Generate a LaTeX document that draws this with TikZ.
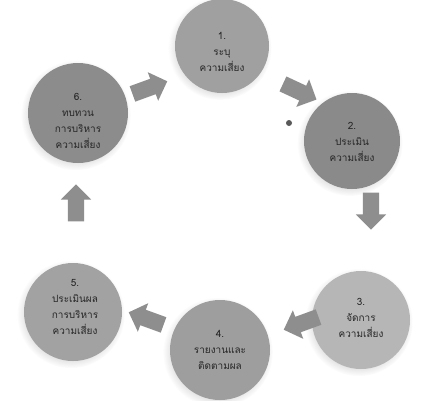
\documentclass[tikz,border=0pt]{standalone}
\usepackage{fontspec}
\newfontfamily\thaifont[Script=Thai]{Loma}
\usetikzlibrary{shapes.arrows,shadows}
\definecolor{cA}{HTML}{A0A0A0}
\definecolor{cB}{HTML}{8A8A8A}
\definecolor{cC}{HTML}{B6B6B6}
\definecolor{cD}{HTML}{9E9E9E}
\definecolor{cE}{HTML}{A2A2A2}
\definecolor{cF}{HTML}{8C8C8C}
\definecolor{arr}{HTML}{8E8E8E}
\definecolor{txt}{HTML}{262626}
\begin{document}
\begin{tikzpicture}[x=1pt,y=1pt,
  stage/.style={circle, minimum size=#1, inner sep=0pt,
    circular drop shadow={shadow xshift=-2pt, shadow yshift=-2pt, opacity=0.25, fill=black!40}},
  label/.style={align=center, text=txt, inner sep=0pt,
    font=\thaifont\fontsize{10}{16}\selectfont},
  blockarrow/.style={single arrow, fill=arr, draw=none, minimum height=37pt,
    inner sep=8pt, single arrow head extend=7pt, single arrow tip angle=90}
]
\useasboundingbox (0,0) rectangle (428,-400);
\fill[white] (0,0) rectangle (428,-400);
\node[stage=94pt, fill=cA] (s1) at (222,-46) {};
\node[stage=96pt, fill=cB] (s2) at (352,-141) {};
\node[stage=98pt, fill=cC] (s3) at (361,-320) {};
\node[stage=100pt, fill=cD] (s4) at (220,-350) {};
\node[stage=98pt, fill=cE] (s5) at (73,-312) {};
\node[stage=100pt, fill=cF] (s6) at (78,-113) {};
\node[label] (t1) at (222,-52) {1.\\ระบุ\\ความเสี่ยง};
\node[label] (t2) at (352,-142) {2.\\ประเมิน\\ความเสี่ยง};
\node[label] (t3) at (361,-318) {3.\\จัดการ\\ความเสี่ยง};
\node[label] (t4) at (220,-350) {4.\\รายงานและ\\ติดตามผล};
\node[label] (t5) at (75,-307) {5.\\ประเมินผล\\การบริหาร\\ความเสี่ยง};
\node[label] (t6) at (78,-121) {6.\\ทบทวน\\การบริหาร\\ความเสี่ยง};
\node[blockarrow, rotate=20] (a61) at (146,-89) {};
\node[blockarrow, rotate=-25] (a12) at (296,-90) {};
\node[blockarrow, rotate=-90] (a23) at (371,-207) {};
\node[blockarrow, rotate=200] (a34) at (305,-322) {};
\node[blockarrow, rotate=160] (a45) at (150,-320) {};
\node[blockarrow, rotate=90] (a56) at (76,-207) {};
\fill[black!65] (289,-123) circle (3);
\end{tikzpicture}
\end{document}
